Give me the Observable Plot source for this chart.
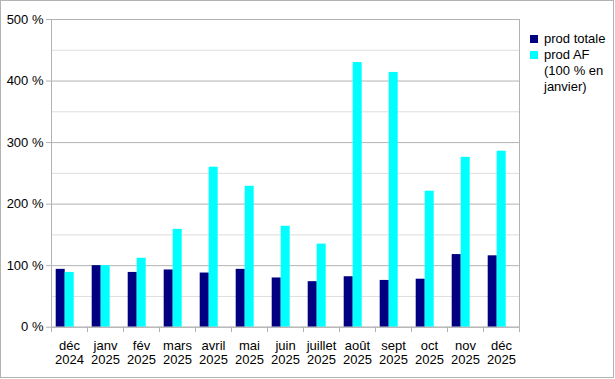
<!DOCTYPE html>
<html>
<head>
<meta charset="utf-8">
<script src="https://cdn.jsdelivr.net/npm/d3@7"></script>
<script src="https://cdn.jsdelivr.net/npm/@observablehq/plot@0.6"></script>
<style>
  html, body { margin: 0; padding: 0; background: #fff; }
  #wrap { position: relative; width: 615px; height: 379px; overflow: hidden; font-family: "Liberation Sans", Arial, sans-serif; }
  #border { position: absolute; left: 0; top: 0; width: 614px; height: 378px; box-sizing: border-box; border: 1px solid #b3b3b3; pointer-events: none; }
  #legend { position: absolute; left: 530px; top: 31px; font-size: 13px; line-height: 16px; color: #000; }
  .item { position: relative; padding-left: 14px; }
  .sw { position: absolute; left: 0; top: 4px; width: 8px; height: 8px; }
</style>
</head>
<body>
<div id="wrap">
  <div id="chart"></div>
  <div id="legend"></div>
  <div id="border"></div>
</div>
<script>
const months = ["déc\n2024","janv\n2025","fév\n2025","mars\n2025","avril\n2025","mai\n2025","juin\n2025","juillet\n2025","août\n2025","sept\n2025","oct\n2025","nov\n2025","déc\n2025"];
const prodTotale = [94, 100, 89, 93, 88, 94, 80, 74, 82, 76, 78, 118, 116];
const prodAF = [89, 100, 112, 159, 260, 229, 164, 135, 430, 414, 221, 276, 286];
const seriesNames = ["prod totale", "prod AF\n(100 % en\njanvier)"];
const seriesColors = ["#000080", "#00ffff"];
const majorTicks = [0, 100, 200, 300, 400, 500];
const minorTicks = [50, 150, 250, 350, 450];

const rowsT = months.map((m, i) => ({month: m, value: prodTotale[i]}));
const rowsA = months.map((m, i) => ({month: m, value: prodAF[i]}));

const chart = Plot.plot({
  width: 615,
  height: 379,
  marginLeft: 51,
  marginRight: 96,
  marginTop: 19,
  marginBottom: 52.3,
  style: {fontFamily: "'Liberation Sans', Arial, sans-serif", fontSize: "13px", color: "#000", background: "transparent"},
  x: {type: "band", domain: months, padding: 0, label: null},
  y: {domain: [0, 500], label: null},
  marks: [
    Plot.ruleY(minorTicks, {y: d => d, stroke: "#dddddd", strokeWidth: 1}),
    Plot.ruleY(majorTicks, {y: d => d, stroke: "#b3b3b3", strokeWidth: 1}),
    Plot.ruleX([months[months.length - 1]], {x: d => d, dx: 18, stroke: "#b3b3b3", insetBottom: -5.5}),
    Plot.ruleX(months, {x: d => d, y1: 0, y2: 0, dx: -18, stroke: "#b3b3b3", insetBottom: -5.5}),
    Plot.barY(rowsT, {x: "month", y: "value", fill: seriesColors[0], insetLeft: 4.7, insetRight: 22.3}),
    Plot.barY(rowsA, {x: "month", y: "value", fill: seriesColors[1], insetLeft: 13.7, insetRight: 13.3}),
    Plot.ruleX([months[0]], {x: d => d, dx: -18, stroke: "#b3b3b3"}),
    Plot.axisY(majorTicks, {tickSize: 5, tickPadding: 3, stroke: "#b3b3b3", tickFormat: d => d + " %", fontSize: 13, fill: "#000", label: null}),
    Plot.axisX({tickSize: 0, tickPadding: 12.4, lineHeight: 1.12, fontSize: 13, fill: "#000", label: null}),
    Plot.ruleY([0], {stroke: "#b3b3b3"})
  ]
});
chart.querySelectorAll("text").forEach(t => t.setAttribute("fill", "#000"));
document.getElementById("chart").appendChild(chart);

const legend = document.getElementById("legend");
seriesNames.forEach((name, i) => {
  const div = document.createElement("div");
  div.className = "item";
  const sw = document.createElement("span");
  sw.className = "sw";
  sw.style.background = seriesColors[i];
  div.appendChild(sw);
  name.split("\n").forEach((line, j) => {
    if (j > 0) div.appendChild(document.createElement("br"));
    div.appendChild(document.createTextNode(line));
  });
  legend.appendChild(div);
});
</script>
</body>
</html>
